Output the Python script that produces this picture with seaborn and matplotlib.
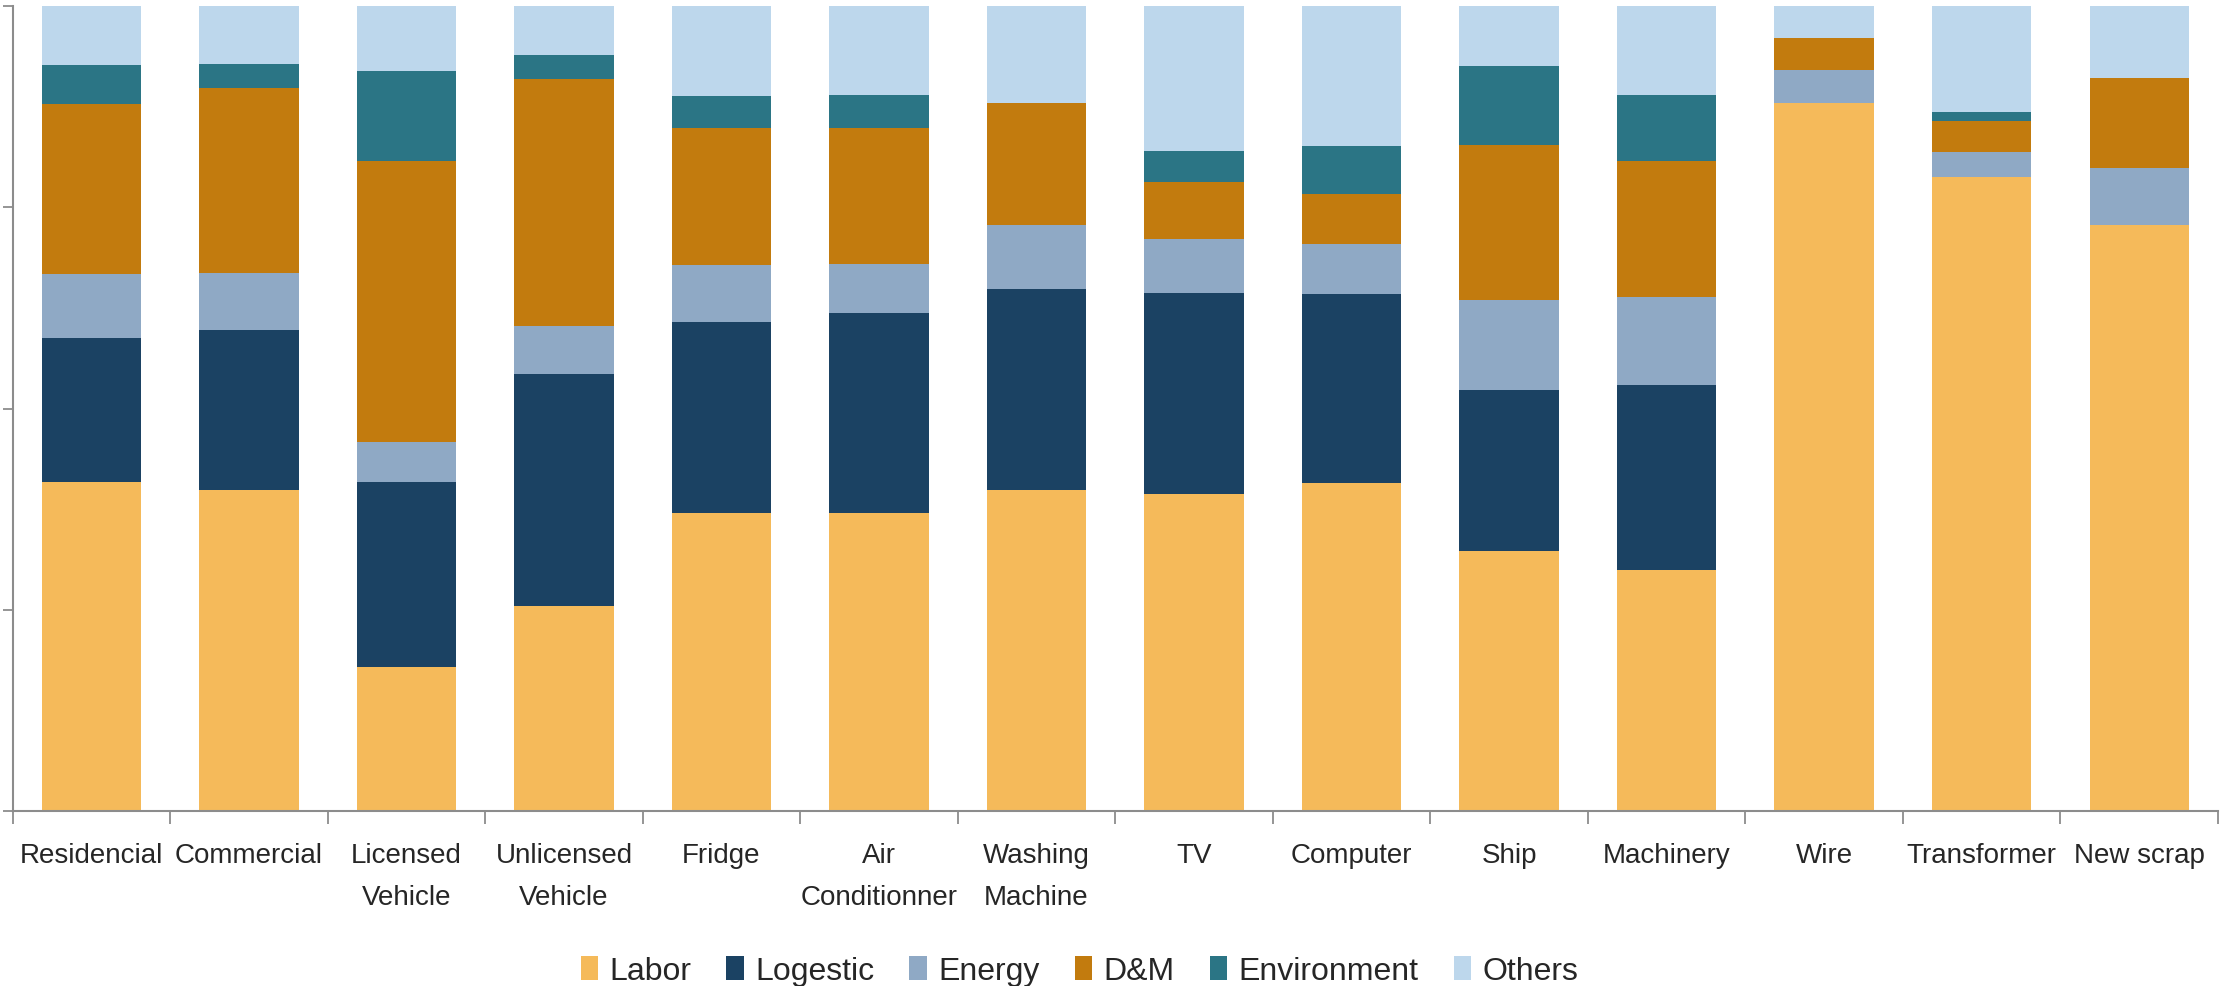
import numpy as np
import pandas as pd
import seaborn as sns
import matplotlib.pyplot as plt
from matplotlib.patches import Patch

categories = ['Residencial', 'Commercial', 'Licensed\nVehicle', 'Unlicensed\nVehicle', 'Fridge',
              'Air\nConditionner', 'Washing\nMachine', 'TV', 'Computer', 'Ship', 'Machinery',
              'Wire', 'Transformer', 'New scrap']

# shares in %
labor       = [40.9, 39.9, 17.9, 25.5, 37.1, 37.1, 39.9, 39.4, 40.8, 32.3, 29.9, 88.0, 78.8, 72.8]
logestic    = [17.9, 19.9, 23.0, 28.8, 23.7, 24.8, 25.0, 25.0, 23.4, 20.0, 23.0, 0.0, 0.0, 0.0]
energy      = [7.9, 7.0, 4.9, 6.0, 7.0, 6.0, 7.9, 6.7, 6.2, 11.2, 10.9, 4.0, 3.0, 7.1]
dm          = [21.1, 23.0, 35.0, 30.6, 17.0, 17.0, 15.2, 7.0, 6.2, 19.2, 17.0, 4.0, 3.9, 11.2]
environment = [4.9, 3.0, 11.1, 3.0, 4.0, 4.0, 0.0, 3.9, 6.0, 9.9, 8.1, 0.0, 1.1, 0.0]
others      = [7.3, 7.2, 8.1, 6.1, 11.2, 11.1, 12.0, 18.0, 17.4, 7.4, 11.1, 4.0, 13.2, 8.9]

series = ['Labor', 'Logestic', 'Energy', 'D&M', 'Environment', 'Others']
colors = ['#F5BA5A', '#1B4263', '#8FA9C5', '#C27B0E', '#2B7585', '#BDD7EC']

df = pd.DataFrame({'cat': categories, 'Labor': labor, 'Logestic': logestic, 'Energy': energy,
                   'D&M': dm, 'Environment': environment, 'Others': others})
cum = df[series].cumsum(axis=1)

sns.set_style('white')
plt.rcParams['font.family'] = ['Liberation Sans', 'DejaVu Sans']

fig, ax = plt.subplots(figsize=(22.21, 9.87), dpi=100)
fig.subplots_adjust(left=0.0057, right=0.9986, top=0.993, bottom=0.177)

# draw from the top series down so each cumulative bar covers the one before
for s, c in zip(series[::-1], colors[::-1]):
    sns.barplot(x=df['cat'], y=cum[s], color=c, width=0.63, errorbar=None,
                saturation=1, ax=ax, order=categories, edgecolor='none', linewidth=0)

ax.set_ylim(0, 100)
ax.set_xlim(-0.5, len(categories) - 0.5)
ax.set_yticks([0, 25, 50, 75, 100])
ax.set_yticklabels([])
ax.set_xlabel('')
ax.set_ylabel('')

ax.set_xticks(np.arange(len(categories)))
ax.set_xticklabels(categories, fontsize=20, color='#262626', linespacing=1.8)
ax.set_xticks(np.arange(len(categories) + 1) - 0.5, minor=True)
ax.tick_params(axis='x', which='major', length=0, pad=22)
ax.tick_params(axis='x', which='minor', length=9, width=1.3, color='#8c8c8c', direction='out', bottom=True)
ax.tick_params(axis='y', which='major', length=7, width=1.3, color='#8c8c8c', direction='out', left=True)

for side in ['top', 'right']:
    ax.spines[side].set_visible(False)
for side in ['left', 'bottom']:
    ax.spines[side].set_color('#8c8c8c')
    ax.spines[side].set_linewidth(1.5)

handles = [Patch(facecolor=c, edgecolor='none', label=s) for s, c in zip(series, colors)]
fig.legend(handles=handles, loc='center', bbox_to_anchor=(0.486, 0.015), ncol=6, frameon=False,
           fontsize=23, handlelength=0.55, handleheight=0.8, handletextpad=0.35, columnspacing=1.1,
           labelcolor='#262626')

fig.savefig('out.png', dpi=100)
